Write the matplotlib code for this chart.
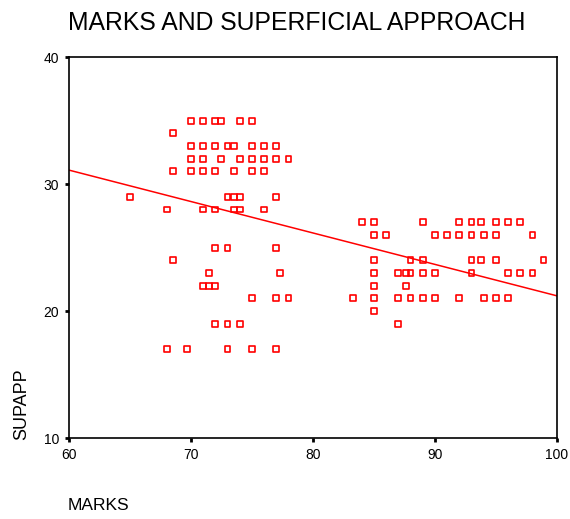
import numpy as np
import matplotlib
matplotlib.use("Agg")
import matplotlib.pyplot as plt

plt.rcParams['font.family'] = ['Liberation Sans', 'DejaVu Sans']

# values (MARKS vs SUPAPP)
marks = [
    70, 71, 72, 72.5, 74, 75,
    68.5,
    70, 71, 72, 73, 73.5, 75, 76, 77,
    70, 71, 72.5, 74, 75, 76, 77, 78,
    68.5, 70, 71, 72, 73.5, 75, 76,
    65, 73, 73.5, 74, 77,
    68, 71, 72, 73.5, 74, 76,
    72, 73, 77,
    68.5,
    71.5, 77.3,
    71, 71.5, 72,
    75, 77, 78,
    72, 73, 74,
    68, 69.7, 73, 75, 77,
    # right cluster
    84, 85, 89, 92, 93, 93.8, 95, 96, 97,
    85, 86, 90, 91, 92, 93, 94, 95, 98,
    85, 88, 89, 93, 93.8, 95, 98.9,
    85, 87, 87.6, 88, 89, 90, 93, 96, 97, 98,
    85, 87.6,
    83.25, 85, 87, 88, 89, 90, 92, 94, 95, 96,
    85,
    87,
]
supapp = (
    [35] * 6 + [34] + [33] * 8 + [32] * 8 + [31] * 7 + [29] * 5 + [28] * 6
    + [25] * 3 + [24] + [23] * 2 + [22] * 3 + [21] * 3 + [19] * 3 + [17] * 5
    + [27] * 9 + [26] * 9 + [24] * 7 + [23] * 10 + [22] * 2 + [21] * 10
    + [20] + [19]
)

# fitted regression line as shown (SUPAPP at MARKS = 60 and 100)
fit_marks = [60, 100]
fit_supapp = [31.1, 21.2]

fig = plt.figure(figsize=(5.7, 5.19), dpi=100)
ax = fig.add_axes([0.121, 0.156, 0.856, 0.734])

ax.scatter(marks, supapp, marker='s', s=18, facecolors='none',
           edgecolors='#ff0000', linewidths=1.2, zorder=3)
ax.plot(fit_marks, fit_supapp, color='#ff0000', lw=1.1, zorder=2)

ax.set_xlim(60, 100)
ax.set_ylim(10, 40)
ax.set_xticks([60, 70, 80, 90, 100])
ax.set_yticks([10, 20, 30, 40])
ax.tick_params(direction='out', length=3, width=2, labelsize=10, pad=4)
for s in ax.spines.values():
    s.set_linewidth(1.2)

fig.text(68 / 570, 1 - 11 / 519, 'MARKS AND SUPERFICIAL APPROACH',
         fontsize=17.8, ha='left', va='top')
fig.text(68 / 570, 1 - 513 / 519, 'MARKS', fontsize=12.5, ha='left', va='bottom')
fig.text(13 / 570, 1 - 440 / 519, 'SUPAPP', fontsize=13, rotation=90,
         ha='left', va='bottom')

fig.savefig('out.png', dpi=100)
